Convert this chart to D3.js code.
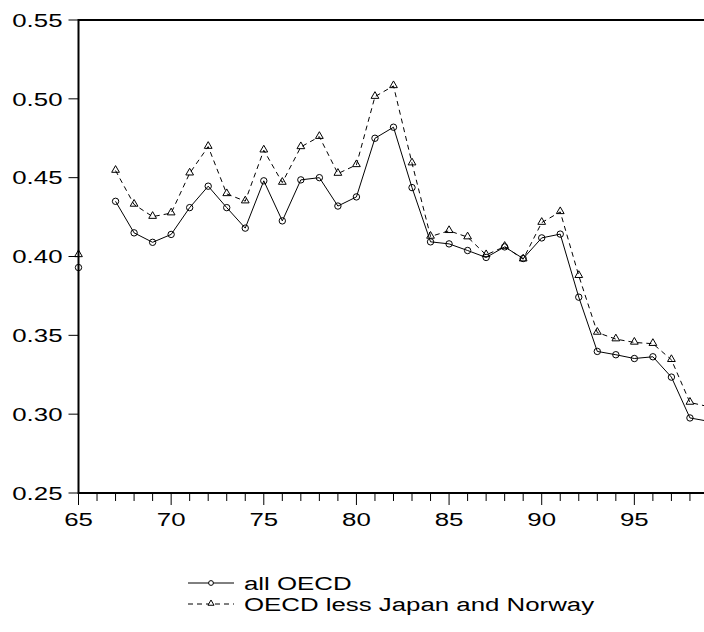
<!DOCTYPE html>
<html>
<head>
<meta charset="utf-8">
<script src="https://cdn.jsdelivr.net/npm/d3@7"></script>
<style>
  html, body { margin: 0; padding: 0; background: #fff; }
  svg { display: block; }
  text { font-family: "Liberation Sans", Arial, Helvetica, sans-serif; fill: #000; }
</style>
</head>
<body>
<svg id="chart" width="704" height="632"></svg>
<script>
// years 1965..1999 (66 missing)
const years = d3.range(65, 100);
const allOECD = [0.393, null, 0.435, 0.415, 0.409, 0.414, 0.431, 0.4446, 0.431, 0.418,
  0.448, 0.4226, 0.4486, 0.450, 0.432, 0.4378, 0.475, 0.482, 0.4437, 0.4093,
  0.408, 0.4038, 0.3994, 0.4061, 0.3987, 0.4118, 0.4142, 0.3742, 0.3398, 0.3377,
  0.3353, 0.3364, 0.3235, 0.2976, 0.2955];
const lessJN = [0.401, null, 0.4545, 0.433, 0.4253, 0.4275, 0.4528, 0.4697, 0.4397, 0.4351,
  0.4674, 0.4469, 0.4695, 0.476, 0.4526, 0.4581, 0.5014, 0.5082, 0.4592, 0.4127,
  0.4163, 0.4123, 0.401, 0.4063, 0.3983, 0.4215, 0.4283, 0.3878, 0.3518, 0.3476,
  0.3455, 0.3447, 0.3345, 0.3074, 0.3048];
const yTicks = [0.25, 0.30, 0.35, 0.40, 0.45, 0.50, 0.55];
const xTicks = [65, 70, 75, 80, 85, 90, 95];
const seriesNames = ["all OECD", "OECD less Japan and Norway"];

const svg = d3.select("#chart");
const SX = 1.36; // the original type is stretched sideways
const fs = 19;

const x = d3.scaleLinear().domain([65, 100]).range([78.5, 727]);
const y = d3.scaleLinear().domain([0.25, 0.55]).range([493, 20]);

function label(sel, tx, ty, str, anchor) {
  sel.append("text")
    .attr("transform", `translate(${tx},${ty}) scale(${SX},1)`)
    .attr("text-anchor", anchor)
    .attr("font-size", fs)
    .text(str);
}

// frame (right side runs off the page)
svg.append("rect")
  .attr("x", x(65)).attr("y", y(0.55))
  .attr("width", x(100) - x(65)).attr("height", y(0.25) - y(0.55))
  .attr("fill", "none").attr("stroke", "#000").attr("stroke-width", 2);

// y ticks + labels
const yg = svg.append("g");
yTicks.forEach(v => {
  yg.append("line")
    .attr("x1", x(65) - 10).attr("x2", x(65))
    .attr("y1", y(v)).attr("y2", y(v))
    .attr("stroke", "#000").attr("stroke-width", 1);
  label(yg, x(65) - 16, y(v) + 6.8, d3.format(".2f")(v), "end");
});

// x ticks: major every 5, minor every year
const xg = svg.append("g");
years.forEach(yr => {
  const major = xTicks.includes(yr);
  xg.append("line")
    .attr("x1", x(yr)).attr("x2", x(yr))
    .attr("y1", y(0.25)).attr("y2", y(0.25) + (major ? 12 : 8))
    .attr("stroke", "#000").attr("stroke-width", 1);
});
xTicks.forEach(yr => label(xg, x(yr), 526, String(yr), "middle"));

// series
const ptsA = years.map((yr, i) => ({ yr, v: allOECD[i] }));
const ptsB = years.map((yr, i) => ({ yr, v: lessJN[i] }));
const line = d3.line().defined(d => d.v != null).x(d => x(d.yr)).y(d => y(d.v));

svg.append("path").datum(ptsB)
  .attr("d", line).attr("fill", "none")
  .attr("stroke", "#000").attr("stroke-width", 1).attr("stroke-dasharray", "5,4");
svg.append("path").datum(ptsA)
  .attr("d", line).attr("fill", "none")
  .attr("stroke", "#000").attr("stroke-width", 1);

const tri = d3.symbol().type(d3.symbolTriangle).size(26);

svg.append("g").selectAll("path")
  .data(ptsB.filter(d => d.v != null))
  .join("path")
  .attr("transform", d => `translate(${x(d.yr)},${y(d.v) - 0.5})`)
  .attr("d", tri)
  .attr("fill", "none").attr("stroke", "#000").attr("stroke-width", 1);

svg.append("g").selectAll("circle")
  .data(ptsA.filter(d => d.v != null))
  .join("circle")
  .attr("cx", d => x(d.yr)).attr("cy", d => y(d.v)).attr("r", 3.2)
  .attr("fill", "none").attr("stroke", "#000").attr("stroke-width", 1);

// legend
const lg = svg.append("g");
const rows = [583, 604];
lg.append("line").attr("x1", 188).attr("x2", 234).attr("y1", rows[0]).attr("y2", rows[0])
  .attr("stroke", "#000");
lg.append("circle").attr("cx", 211).attr("cy", rows[0]).attr("r", 2.4)
  .attr("fill", "#fff").attr("stroke", "#000");
lg.append("line").attr("x1", 188).attr("x2", 234).attr("y1", rows[1]).attr("y2", rows[1])
  .attr("stroke", "#000").attr("stroke-dasharray", "5,4");
lg.append("path").attr("transform", `translate(211,${rows[1] - 0.5})`)
  .attr("d", d3.symbol().type(d3.symbolTriangle).size(16))
  .attr("fill", "#fff").attr("stroke", "#000");
seriesNames.forEach((n, i) => label(lg, 244, rows[i] + 7, n, "start"));
</script>
</body>
</html>
